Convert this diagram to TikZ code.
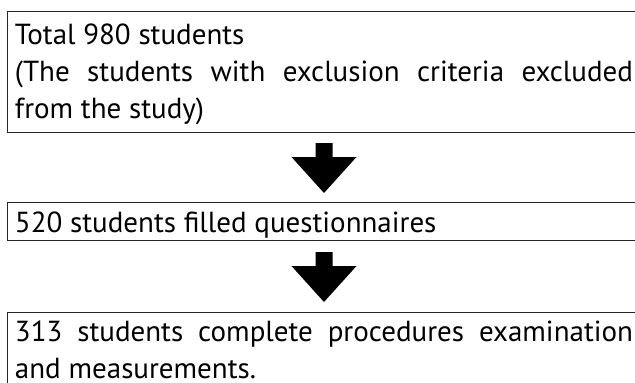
\documentclass[tikz,border=0pt]{standalone}
\usepackage{fontspec}
\setmainfont{PT Sans}
\usetikzlibrary{calc}
\begin{document}
\begin{tikzpicture}[x=1pt,y=-1pt,
  stagebox/.style={draw=black!85, line width=0.9pt, anchor=north west,
    outer sep=0pt, inner xsep=8pt, inner ysep=0pt, text width=618pt,
    align=justify, font=\fontsize{29}{37}\selectfont},
  blockarrow/.pic={
    \fill[black] (-8.5,-25) -- (8.5,-25) -- (8.5,-11) -- (32.5,-11)
      -- (0,25) -- (-32.5,-11) -- (-8.5,-11) -- cycle;}]
\useasboundingbox (0,0) rectangle (635,383);
\clip (0,0) rectangle (635,383);

% the three stages of the sample
\node[stagebox, text height=33pt, text depth=88pt] (total) at (7,11)
  {Total 980 students\\(The students with exclusion criteria excluded\linebreak from the study)};
\node[stagebox, text height=30pt, text depth=8pt] (filled) at (7,202)
  {520 students filled questionnaires};
\node[stagebox, text height=29pt, text depth=70pt] (complete) at (7,312)
  {313 students complete procedures examination\linebreak and measurements.};

% block arrows between the stages
\path (total.south) -- (filled.north) coordinate[midway] (m1);
\path (filled.south) -- (complete.north) coordinate[midway] (m2);
\pic at ($(m1)+(0,1)$) {blockarrow};
\pic at ($(m2)+(0,1)$) {blockarrow};
\end{tikzpicture}
\end{document}
